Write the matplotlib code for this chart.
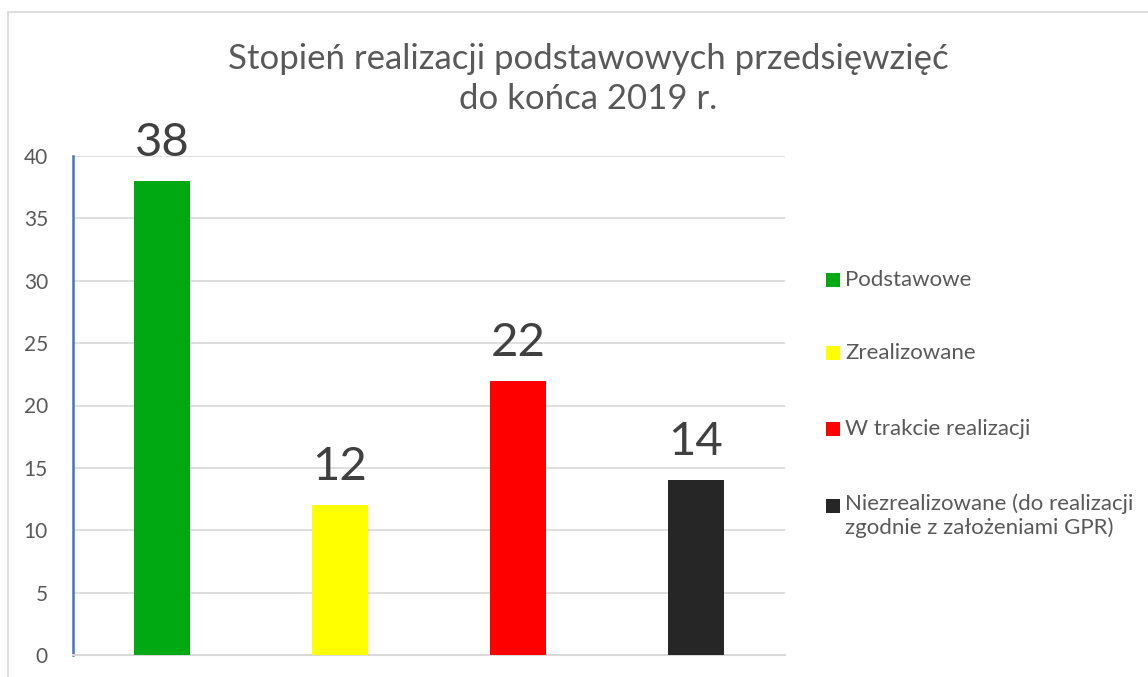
import matplotlib
matplotlib.use("Agg")
import matplotlib.pyplot as plt
from matplotlib.patches import Rectangle

categories = ["Podstawowe", "Zrealizowane", "W trakcie realizacji",
              "Niezrealizowane (do realizacji\nzgodnie z założeniami GPR)"]
values = [38, 12, 22, 14]
colors = ["#00A912", "#FFFF00", "#FF0000", "#262626"]
yticks = [0, 5, 10, 15, 20, 25, 30, 35, 40]
title = "Stopień realizacji podstawowych przedsięwzięć\ndo końca 2019 r."

plt.rcParams['font.family'] = ['Lato', 'DejaVu Sans']
W, H = 1148, 677
fig = plt.figure(figsize=(W / 100, H / 100), dpi=100)
fig.patch.set_facecolor("white")

# chart border
fig.patches.append(Rectangle((8 / W, -0.1), 1.2, 1 - 12 / H + 0.1, transform=fig.transFigure,
                             fill=False, edgecolor="#D9D9D9", linewidth=1.2))

ax = fig.add_axes([73 / W, 1 - 655 / H, 712 / W, (655 - 156) / H])
x = list(range(len(values)))
ax.bar(x, values, width=0.315, color=colors, zorder=3)
ax.set_xlim(-0.5, len(values) - 0.5)
ax.set_ylim(0, 40)
ax.set_yticks(yticks)
ax.set_yticklabels([str(t) for t in yticks], fontsize=15, color="#595959")
ax.set_xticks([])
ax.tick_params(axis="y", length=0, pad=18)
ax.grid(axis="y", color="#D9D9D9", linewidth=1.2, zorder=0)
for s in ["top", "right"]:
    ax.spines[s].set_visible(False)
ax.spines["left"].set_color("#4472C4")
ax.spines["left"].set_linewidth(1.8)
ax.spines["bottom"].set_color("#D9D9D9")
ax.spines["bottom"].set_linewidth(1.5)

for xi, v in zip(x, values):
    ax.annotate(str(v), (xi, v), xytext=(0, 18), textcoords="offset points",
                ha="center", va="baseline", fontsize=34, color="#404040")

fig.text(588 / W, 1 - 79 / H, title, ha="center", va="center", fontsize=25,
         color="#595959", linespacing=1.3)

# legend
ys = [280, 353, 429, 506]
for cat, col, yy in zip(categories, colors, ys):
    fig.patches.append(Rectangle((826 / W, 1 - (yy + 7) / H), 14 / W, 14 / H,
                                 transform=fig.transFigure, facecolor=col, edgecolor="none"))
    if "\n" in cat:
        fig.text(845 / W, 1 - (yy - 13) / H, cat, ha="left", va="top",
                 fontsize=16, color="#595959", linespacing=1.25)
    else:
        fig.text(845 / W, 1 - yy / H, cat, ha="left", va="center",
                 fontsize=16, color="#595959")

fig.savefig("out.png", dpi=100)
